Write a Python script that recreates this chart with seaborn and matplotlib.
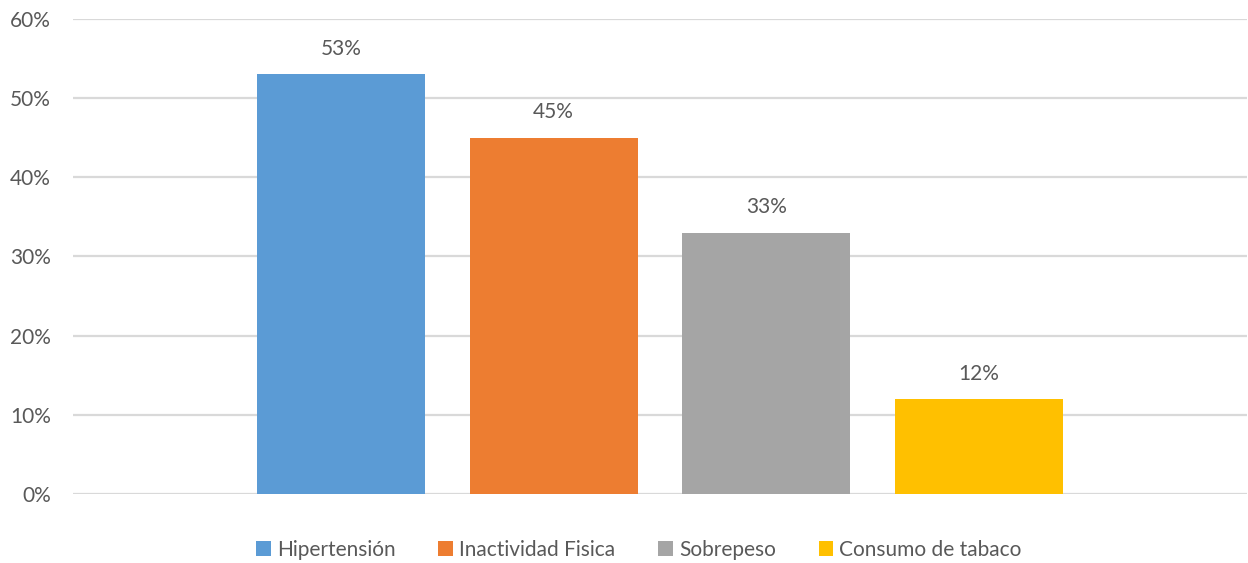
import matplotlib
matplotlib.use("Agg")
import matplotlib.pyplot as plt
import seaborn as sns
import pandas as pd
from matplotlib.patches import Patch
from matplotlib.ticker import PercentFormatter, MultipleLocator

# Risk factors and their shares
factores = ["Hipertensión", "Inactividad Fisica", "Sobrepeso", "Consumo de tabaco"]
porcentajes = [0.53, 0.45, 0.33, 0.12]
colores = ["#5B9BD5", "#ED7D31", "#A5A5A5", "#FFC000"]
grupo = ["Factores"] * len(factores)

df = pd.DataFrame({"grupo": grupo, "factor": factores, "valor": porcentajes})

sns.set_theme(style="white")
plt.rcParams["font.family"] = ["Lato", "DejaVu Sans"]

W, H = 1248, 563
fig = plt.figure(figsize=(W / 100, H / 100), dpi=100)
ax = fig.add_axes([73 / W, 1 - 494 / H, (1247 - 73) / W, (494 - 19) / H])

sns.barplot(data=df, x="grupo", y="valor", hue="factor", hue_order=factores,
            palette=colores, width=0.725, gap=0.211, saturation=1,
            legend=False, ax=ax, edgecolor="none")

txt = "#595959"
for cont in ax.containers:
    ax.bar_label(cont, labels=[f"{v * 100:.0f}%" for v in cont.datavalues],
                 padding=11, fontsize=15, color=txt)

ax.set_ylim(0, 0.6)
ax.set_xlim(-0.5, 0.5)
ax.yaxis.set_major_locator(MultipleLocator(0.1))
ax.yaxis.set_major_formatter(PercentFormatter(1.0, decimals=0))
ax.set_xticks([])
ax.set_xlabel("")
ax.set_ylabel("")
ax.tick_params(axis="y", length=0, labelsize=15, labelcolor=txt, pad=16)
ax.grid(axis="y", color="#D9D9D9", linewidth=1.6)
ax.set_axisbelow(True)
for s in ax.spines.values():
    s.set_visible(False)

handles = [Patch(facecolor=c, edgecolor="none") for c in colores]
fig.legend(handles, factores, loc="center", bbox_to_anchor=(639 / W, 1 - 550 / H),
           ncol=4, frameon=False, fontsize=15, labelcolor=txt,
           handlelength=0.7, handleheight=0.7, handletextpad=0.3,
           columnspacing=2.05)

fig.savefig("out.png", dpi=100, facecolor="white")
